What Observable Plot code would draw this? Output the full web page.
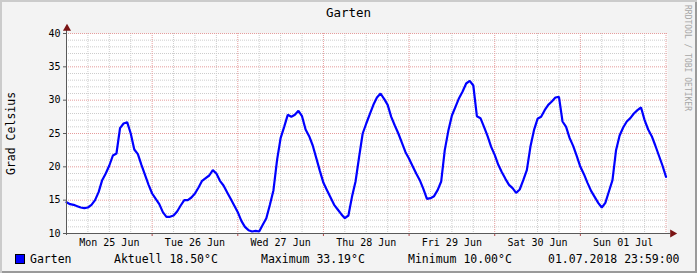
<!DOCTYPE html>
<html>
<head>
<meta charset="utf-8">
<script src="https://cdn.jsdelivr.net/npm/d3@7"></script>
<script src="https://cdn.jsdelivr.net/npm/@observablehq/plot@0.6"></script>
<style>
html, body { margin: 0; padding: 0; background: #f3f3f3; }
#chart {
  position: relative; width: 697px; height: 273px; overflow: hidden;
  background: #f3f3f3;
  box-shadow: inset 2px 2px 0 #cbcbcb, inset -2px -2px 0 #9a9a9a;
  font-family: "DejaVu Sans Mono", monospace; color: #000;
}
#chart svg { position: absolute; left: 0; top: 0; }
.abs { position: absolute; white-space: pre; }
#title { left: 0; width: 697px; top: 6px; text-align: center; font-size: 12.5px; line-height: 14px; }
#ylab { left: 4px; top: 33px; width: 14px; height: 200px; writing-mode: vertical-rl; transform: rotate(180deg);
        text-align: center; font-size: 11.5px; line-height: 14px; }
#credit { left: 682px; top: 5px; writing-mode: vertical-rl; font-size: 8px; line-height: 10px; color: #a6a6a6; }
.leg { top: 252px; font-size: 11.5px; line-height: 14px; }
#swatch { left: 15px; top: 254px; width: 8px; height: 8px; background: #0000ff; border: 1px solid #000; }
</style>
</head>
<body>
<div id="chart"></div>
<script>
// ---- data (hourly temperatures, °C, from 25 Jun 2018 00:00) ----
const seriesName = "Garten";
const startTime = "2018-06-25T00:00:00Z";
const windowEnd = "2018-07-02T00:25:00Z";
const day1 = [14.7,14.4,14.3,14.1,13.9,13.8,13.9,14.3,15.0,16.2,18.0,19.0,20.2,21.7,22.0,25.8,26.5,26.7,25.0,22.6,21.9,20.3,18.8,17.3];
const day2 = [16.0,15.2,14.4,13.2,12.5,12.5,12.7,13.3,14.2,15.0,15.0,15.4,16.0,16.9,17.9,18.3,18.7,19.5,19.0,17.9,17.2,16.2,15.2,14.2];
const day3 = [13.2,11.9,11.0,10.5,10.3,10.4,10.3,11.3,12.3,14.3,16.5,21.0,24.3,26.0,27.8,27.5,27.8,28.4,27.6,25.6,24.6,23.2,21.3,19.4];
const day4 = [17.6,16.5,15.4,14.3,13.6,12.9,12.3,12.7,15.5,17.8,21.5,25.0,26.5,27.9,29.3,30.4,31.0,30.2,29.3,27.5,26.2,25.0,23.6,22.2];
const day5 = [21.2,20.1,19.0,18.0,16.7,15.2,15.3,15.6,16.5,17.8,22.5,25.4,27.7,29.0,30.3,31.3,32.5,32.9,32.2,27.6,27.3,26.0,24.6,23.0];
const day6 = [21.8,20.3,19.2,18.2,17.3,16.8,16.1,16.6,18.0,19.5,23.0,25.5,27.2,27.5,28.5,29.3,29.8,30.4,30.5,26.8,26.0,24.3,23.1,21.6];
const day7 = [20.0,18.9,17.6,16.4,15.5,14.6,13.9,14.6,16.3,18.0,22.5,24.7,25.9,26.8,27.3,28.0,28.5,28.9,27.0,25.6,24.6,23.2,21.7,20.2,18.5];

const yTicks = [10, 15, 20, 25, 30, 35, 40];
const dayStarts = ["2018-06-25","2018-06-26","2018-06-27","2018-06-28","2018-06-29","2018-06-30","2018-07-01","2018-07-02"];
const dayLabelTimes = ["2018-06-25T12:00Z","2018-06-26T12:00Z","2018-06-27T12:00Z","2018-06-28T12:00Z","2018-06-29T12:00Z","2018-06-30T12:00Z","2018-07-01T12:00Z"];
const legendLabels = ["Aktuell", "Maximum", "Minimum"];
const legendValues = [18.50, 33.19, 10.00];
const lastUpdate = "01.07.2018 23:59:00";
const chartTitle = "Garten";
const yTitle = "Grad Celsius";
const credit = "RRDTOOL / TOBI OETIKER";

// ---- build ----
const HOUR = 3600e3;
const t0 = new Date(startTime).getTime();
const temps = [...day1, ...day2, ...day3, ...day4, ...day5, ...day6, ...day7];
const data = temps.map((v, i) => ({t: new Date(t0 + i * HOUR), v}));
const midnights = dayStarts.map(d => new Date(d + "T00:00:00Z"));
const noons = dayLabelTimes.map(d => new Date(d));
const sixHours = [];
for (let i = 0; i < midnights.length - 1; i++) for (const h of [6, 12, 18]) sixHours.push(new Date(midnights[i].getTime() + h * HOUR));
const minorY = d3.range(yTicks[0], yTicks[yTicks.length - 1] + 1).filter(v => v % 5 !== 0);

const gridMinor = "#cdcdcd", gridMajor = "#e59c9c", axisColor = "#5a5a5a", arrowColor = "#7a1414";

const plot = Plot.plot({
  width: 697, height: 273,
  marginLeft: 66, marginRight: 30, marginTop: 33, marginBottom: 40,
  x: {type: "utc", domain: [new Date(startTime), new Date(windowEnd)], axis: null},
  y: {domain: [yTicks[0], yTicks[yTicks.length - 1]], axis: null},
  style: {background: "transparent", fontFamily: "DejaVu Sans Mono", fontSize: "10px", color: "#000", overflow: "visible"},
  marks: [
    Plot.frame({fill: "#ffffff", stroke: null}),
    Plot.ruleY(minorY, {stroke: gridMinor, strokeDasharray: "1,1"}),
    Plot.ruleX(sixHours, {stroke: gridMinor, strokeDasharray: "1,1"}),
    Plot.ruleY(yTicks.slice(1), {stroke: gridMajor, strokeDasharray: "1,1"}),
    Plot.ruleX(midnights.slice(1), {stroke: gridMajor, strokeDasharray: "1,1"}),
    Plot.line(data, {x: "t", y: "v", stroke: "#0000ff", strokeWidth: 2.2, curve: "linear", strokeLinejoin: "miter"}),
    Plot.axisY({ticks: yTicks, tickSize: 3, tickPadding: 3, stroke: axisColor, fill: "#000", tickFormat: d => String(d), label: null}),
    Plot.axisX({ticks: noons, tickFormat: d3.utcFormat("%a %d %b"), tickSize: 0, tickPadding: 5, fill: "#000", label: null}),
    Plot.axisX({ticks: midnights.slice(1, -1), tickSize: 3, tickFormat: () => "", stroke: "#b04848", label: null}),
    Plot.ruleY([yTicks[0]], {stroke: axisColor, insetLeft: -2, insetRight: -3}),
    Plot.ruleX([new Date(startTime)], {stroke: axisColor, insetTop: -4, insetBottom: -2}),
    Plot.dot([{t: new Date(windowEnd), v: yTicks[0]}], {x: "t", y: "v", symbol: "triangle", rotate: 90, r: 3, fill: arrowColor, stroke: null, dx: 5}),
    Plot.dot([{t: new Date(startTime), v: yTicks[yTicks.length - 1]}], {x: "t", y: "v", symbol: "triangle", r: 3, fill: arrowColor, stroke: null, dy: -5, dx: 0.5})
  ]
});

const chart = document.getElementById("chart");
chart.appendChild(plot);

function addDiv(id, cls, text, style) {
  const d = document.createElement("div");
  if (id) d.id = id;
  d.className = "abs " + (cls || "");
  d.textContent = text;
  if (style) Object.assign(d.style, style);
  chart.appendChild(d);
  return d;
}
addDiv("title", "", chartTitle);
addDiv("ylab", "", yTitle);
addDiv("credit", "", credit);
addDiv("swatch", "", "");
addDiv(null, "leg", seriesName, {left: "30px"});
const legX = [114, 261, 408];
legendLabels.forEach((l, i) => addDiv(null, "leg", `${l} ${legendValues[i].toFixed(2)}°C`, {left: legX[i] + "px"}));
addDiv(null, "leg", lastUpdate, {left: "548px"});
</script>
</body>
</html>
